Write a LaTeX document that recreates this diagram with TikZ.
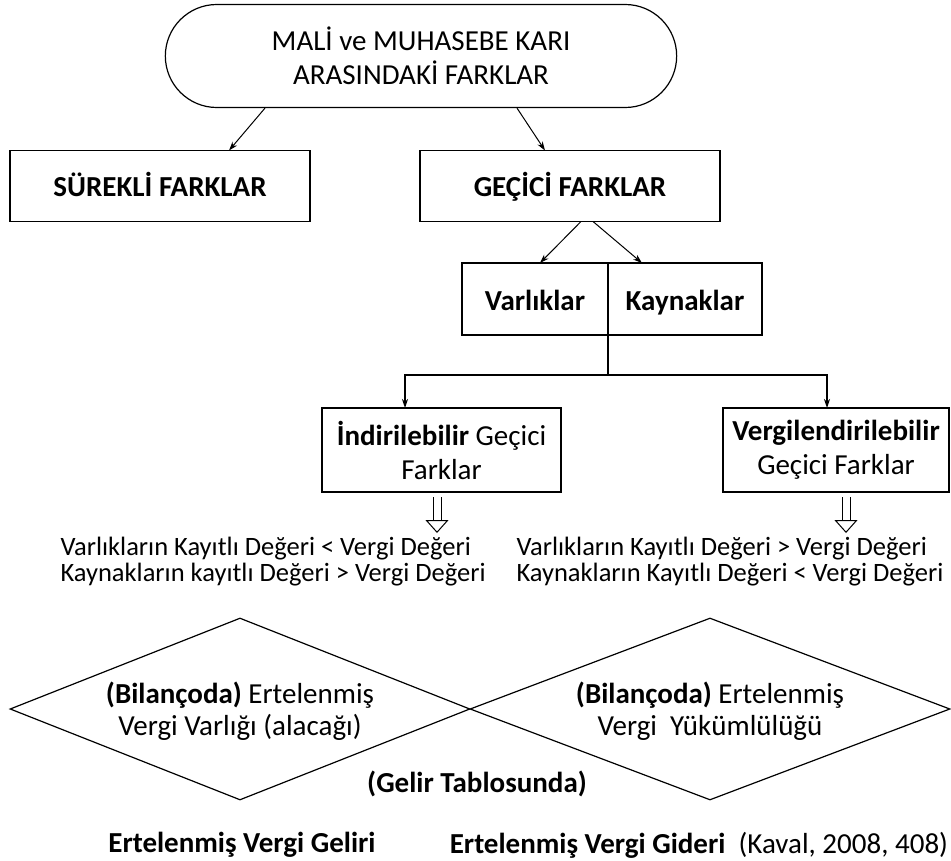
\documentclass[tikz,border=0pt]{standalone}
\usepackage{fontspec}
\setmainfont{Carlito}
\usepackage{tikz}
\usetikzlibrary{arrows.meta,positioning,shapes.misc,shapes.geometric}

\begin{document}
\begin{tikzpicture}[x=1pt,y=-1pt,-{Stealth[length=9pt,width=6pt]},line width=1pt,
    font=\fontsize{29}{34}\selectfont]
  \tikzstyle{term} = [draw,rounded rectangle,line width=1.2pt,minimum width=518pt,minimum height=103pt,align=center]
  \tikzstyle{box} = [draw,rectangle,line width=1.6pt,minimum height=71pt,inner sep=0pt,outer sep=0pt,align=center]
  \tikzstyle{oneline} = [text height=22pt,text depth=0pt]
  \tikzstyle{dia} = [draw,diamond,aspect=2.5,line width=1.2pt,minimum height=182pt,inner sep=0pt,align=center,
    text depth=0pt,font=\fontsize{29}{32}\selectfont]
  \tikzstyle{cmp} = [anchor=west,inner sep=0pt,align=left,font=\fontsize{26.5}{26}\selectfont]
  \tikzstyle{hollow} = [double,double distance=7pt,line width=1pt,
    -{Triangle[open,length=13pt,width=23pt,line width=1pt]}]
  \useasboundingbox (0,0) rectangle (951,861);

  \node[term]                                    (kar)  at (421,56)  {MALİ ve MUHASEBE KARI\\ARASINDAKİ FARKLAR};
  \node[box,oneline,minimum width=300pt]         (sur)  at (160,186) {\textbf{SÜREKLİ FARKLAR}};
  \node[box,oneline,minimum width=300pt]         (gec)  at (570,186) {\textbf{GEÇİCİ FARKLAR}};
  \node[box,oneline,minimum width=146pt,minimum height=72pt] (var) at (535,299) {\textbf{Varlıklar}};
  \node[box,oneline,minimum width=154pt,minimum height=72pt] (kay) [right=0pt of var] {\textbf{Kaynaklar}};
  \node[box,minimum width=239pt,minimum height=84pt] (ind) at (441.5,450) {\textbf{İndirilebilir} Geçici\\Farklar};
  \node[box,minimum width=226pt,minimum height=84pt] (verg) at (836,450) {\textbf{Vergilendirilebilir}\\Geçici Farklar};

  \node[cmp] (cmpL) at (60,562)  {Varlıkların Kayıtlı Değeri < Vergi Değeri\\Kaynakların kayıtlı Değeri > Vergi Değeri};
  \node[cmp] (cmpR) at (516,562) {Varlıkların Kayıtlı Değeri > Vergi Değeri\\Kaynakların Kayıtlı Değeri < Vergi Değeri};

  \node[dia,minimum width=460pt] (bilL) at (240,709) {\textbf{(Bilançoda)} Ertelenmiş\\Vergi Varlığı (alacağı)};
  \node[dia,minimum width=480pt] (bilR) at (710,709) {\textbf{(Bilançoda)} Ertelenmiş\\Vergi\ \ Yükümlülüğü};
  \node (gelir) at (477,784) {\textbf{(Gelir Tablosunda)}};
  \node (vgel)  at (242,845) {\textbf{Ertelenmiş Vergi Geliri}};
  \node[anchor=west] (vgid) at (446,845) {\textbf{Ertelenmiş Vergi Gideri}\ \ (Kaval, 2008, 408)};

  \path ([xshift=-156pt]kar.south) edge ([xshift=69pt]sur.north);
  \path ([xshift=96pt]kar.south)   edge ([xshift=-25pt]gec.north);
  \path ([xshift=11pt]gec.south)   edge ([xshift=5pt]var.north);
  \path ([xshift=23pt]gec.south)   edge ([xshift=-43pt]kay.north);

  \draw[-,line width=1.6pt] (var.south east) -- ++(0,40) coordinate (fork);
  \draw[line width=1.6pt] (fork) -| ([xshift=-36.5pt]ind.north);
  \draw[line width=1.6pt] (fork) -| ([xshift=-9pt]verg.north);

  \draw[hollow,shorten <=5pt,shorten >=4pt] ([xshift=-4.5pt]ind.south) -- ([xshift=-4.5pt]ind.south |- cmpL.north);
  \draw[hollow,shorten <=5pt,shorten >=4pt] ([xshift=10pt]verg.south) -- ([xshift=10pt]verg.south |- cmpR.north);
\end{tikzpicture}
\end{document}
